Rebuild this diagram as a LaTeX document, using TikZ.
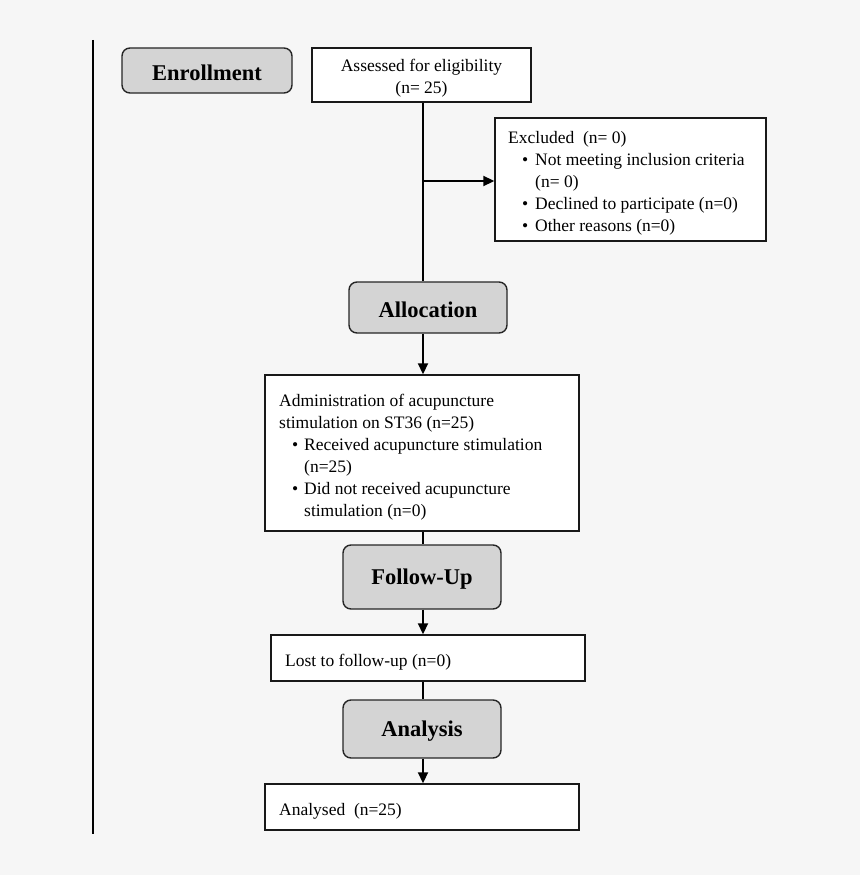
\documentclass[tikz,border=0pt]{standalone}
\usepackage{fontspec}
\setmainfont{Liberation Serif}
\usetikzlibrary{arrows.meta}
\begin{document}
\begin{tikzpicture}[x=1pt,y=-1pt,
  box/.style={draw=black!90,line width=1.4pt,fill=white,inner sep=0pt},
  txt/.style={align=left,inner sep=0pt,anchor=west,yshift=-3pt,font=\fontsize{17.5}{22}\selectfont},
  stage/.style={draw=black!85,line width=1.4pt,fill=black!17,rounded corners=8pt,inner sep=0pt,font=\bfseries\fontsize{22.5}{26}\selectfont},
  stagetext/.style={inner sep=0pt,yshift=-2.5pt,font=\bfseries\fontsize{22.5}{26}\selectfont},
  conn/.style={line width=1.8pt},
  arr/.style={conn,-{Triangle[length=11pt,width=10pt]}}]
\fill[black!3.5] (0,0) rectangle (860,875);
\useasboundingbox (0,0) rectangle (860,875);
\draw[line width=1.2pt] (93,40) -- (93,834);
\coordinate (spine) at (423,0);
% stage boxes
\node[stage,minimum width=170pt,minimum height=45pt] (enroll) at (207,70.5) {};
\node[stagetext] (enrolltxt) at (enroll) {Enrollment};
\node[stage,minimum width=158pt,minimum height=51pt] (alloc) at (428,307.5) {};
\node[stagetext] (alloctxt) at (alloc) {Allocation};
\node[stage,minimum width=158pt,minimum height=64pt] (follow) at (422,577) {};
\node[stagetext] (followtxt) at (follow) {Follow-Up};
\node[stage,minimum width=158pt,minimum height=58pt] (analysis) at (422,729) {};
\node[stagetext] (analysistxt) at (analysis) {Analysis};
% plain boxes
\node[box,minimum width=219pt,minimum height=54pt] (assess) at (421.5,75) {};
\node[txt,anchor=center,align=center] (assesstxt) at (assess) {Assessed for eligibility\\(n= 25)};
\node[box,minimum width=271pt,minimum height=123pt] (excl) at (630.5,179.5) {};
\node[txt] (excltxt) at (508,180) {Excluded\ \ (n= 0)\\
\hspace{14pt}\makebox[13pt][l]{\textbullet}Not meeting inclusion criteria\\
\hspace{27pt}(n= 0)\\
\hspace{14pt}\makebox[13pt][l]{\textbullet}Declined to participate (n=0)\\
\hspace{14pt}\makebox[13pt][l]{\textbullet}Other reasons (n=0)};
\node[box,minimum width=314pt,minimum height=156pt] (admin) at (422,453) {};
\node[txt] (admintxt) at (279,454.5) {Administration of acupuncture\\
stimulation on ST36 (n=25)\\
\hspace{13pt}\makebox[12pt][l]{\textbullet}Received acupuncture stimulation\\
\hspace{25pt}(n=25)\\
\hspace{13pt}\makebox[12pt][l]{\textbullet}Did not received acupuncture\\
\hspace{25pt}stimulation (n=0)};
\node[box,minimum width=314pt,minimum height=46pt] (lost) at (428,658) {};
\node[txt] (losttxt) at (285,659) {Lost to follow-up (n=0)};
\node[box,minimum width=314pt,minimum height=46pt] (analysed) at (422,807) {};
\node[txt] (analysedtxt) at (279,808) {Analysed\ \ (n=25)};
% connectors
\coordinate (br) at (423,181);
\draw[conn] (assess.south -| spine) -- (alloc.north -| spine);
\draw[arr] (br) -- (excl.west |- br);
\draw[arr] (alloc.south -| spine) -- (admin.north -| spine);
\draw[conn] (admin.south -| spine) -- (follow.north -| spine);
\draw[arr] (follow.south -| spine) -- (lost.north -| spine);
\draw[conn] (lost.south -| spine) -- (analysis.north -| spine);
\draw[arr] (analysis.south -| spine) -- (analysed.north -| spine);
\end{tikzpicture}
\end{document}
